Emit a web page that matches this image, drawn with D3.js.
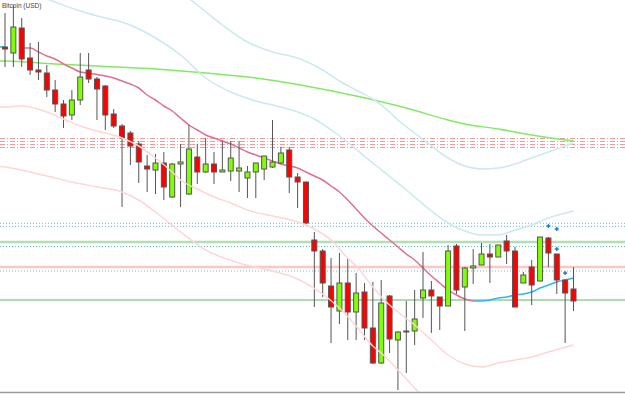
<!DOCTYPE html>
<html><head><meta charset="utf-8">
<script src="https://cdn.jsdelivr.net/npm/d3@7"></script>
<style>html,body{margin:0;padding:0;background:#fff;overflow:hidden}</style>
</head><body><div id="chart"></div>
<script>
const title = "Bitcoin (USD)";
// OHLC per bar (bar index 0..68)
const open  = [8530,8470,8720,8420,8300,8270,8100,7960,7850,8000, 8300,8210,8140,7860,7740,7670,7560,7340,7300,7370, 7030,7360,7060,7430,7280,7360,7280,7290,7290,7220, 7280,7310,7330,7370,7500,7230,7180,6600,6490,6140, 5890,6170,5880,6080,5720,5370,6040,5600,5690,5690, 6020,6100,6030,5940,6540,6130,6320,6350,6460,6430, 6590,6490,6170,6330,6190,6620,6460,6200,6110];
const high  = [8870,8950,8820,8570,8580,8350,8200,8000,8100,8470, 8470,8230,8150,7910,7760,7690,7590,7450,7460,7480, 7370,7560,7750,7560,7620,7480,7590,7590,7590,7340, 7370,7440,7800,7530,7530,7270,7180,6680,6510,6420, 6470,6410,6270,6170,6180,6200,6050,5690,5990,6100, 6480,6190,6030,6550,6560,6330,6510,6570,6560,6550, 6650,6530,6280,6400,6630,6630,6460,6200,6330];
const low   = [8330,8330,8330,8250,8200,8030,7880,7720,7800,7950, 8170,7800,7700,7720,6930,7350,7170,7080,7060,7000, 7020,6930,7050,7160,7270,7160,7280,7190,7080,7020, 7020,7200,7320,7360,7070,6920,6760,5930,6030,5570, 5760,5600,5600,5600,5360,5360,5470,5100,5270,5550, 5820,5670,5700,5940,6060,5690,6160,6350,6170,6430, 6360,5930,6170,5950,6190,6330,6060,5570,5890];
const close = [8510,8730,8410,8300,8280,8100,7960,7840,8000,8230, 8210,8110,7850,7740,7620,7540,7380,7310,7370,7130, 7360,7380,7510,7280,7360,7280,7300,7420,7320,7280, 7370,7440,7380,7470,7230,7180,6770,6490,6170,5930, 6170,5880,6070,5720,5370,5970,5610,5680,5680,5810, 6100,6040,5940,6490,6100,6320,6340,6460,6430,6550, 6490,5930,6250,6150,6630,6470,6200,6070,5990];

// moving average, bar index -1..68
const maStart = -1;
const ma = [8530,8530,8530,8520,8520,8480,8440,8410,8360,8320, 8280,8270,8255,8240,8220,8190,8160,8120,8050,8000, 7940,7890,7820,7750,7700,7650,7620,7590,7560,7520, 7480,7450,7420,7390,7360,7340,7320,7280,7240,7200, 7140,7080,7000,6910,6820,6740,6670,6600,6530,6460, 6400,6320,6240,6170,6100,6050,6010,5990,5990,6000, 6020,6030,6050,6060,6080,6120,6150,6180,6200,6220];
const maRisingRanges = [[-1,0],[56,68]];
const maFallingRange = [2,56];

// long moving average
const longMaIdx = [-1,0,6,12,18,24,30,36,42,48,53,55,59,63,68];
const longMaVal = [8390,8390,8360,8335,8310,8270,8220,8140,8040,7920,7800,7760,7710,7650,7590];

// bands
const upInnerIdx = [0,3,5,9,12,14,18,21,24,27,30,33,35,37,40,44,48,51,53,55,57,59,61,63,65,68];
const upInnerVal = [9150,9070,9010,8890,8820,8780,8620,8450,8220,8080,7990,7930,7880,7810,7640,7370,7100,6890,6770,6690,6650,6650,6700,6750,6820,6890];
const upOuterIdx = [18,21,23,26,29,32,35,38,40,42,44,46,47,49,51,53,55,57,59,61,63,65,67,68];
const upOuterVal = [9250,9080,8950,8750,8580,8480,8420,8300,8190,8100,8010,7880,7800,7670,7540,7420,7340,7310,7320,7360,7420,7480,7540,7570];
const loInnerIdx = [-1,0,2,5,7,9,11,14,16,18,20,21,23,25,27,29,32,35,37,39,41,42,44,45,47,49,51,53,55,57,59,61,63,65,68];
const loInnerVal = [7930,7930,7940,7880,7810,7740,7690,7620,7540,7420,7280,7200,7110,7030,6970,6900,6840,6780,6710,6600,6420,6340,6130,6030,5880,5750,5600,5450,5360,5330,5370,5400,5430,5480,5550];
const loOuterIdx = [-1,0,5,8,11,14,16,18,21,24,28,32,35,38,40,42,44,45,47,49,51];
const loOuterVal = [7340,7330,7240,7180,7130,7080,7000,6880,6680,6500,6370,6290,6210,6060,5920,5740,5540,5470,5300,5120,4940];

// horizontal levels
const dashDotLevels = [7615,7585,7555,7525];
const dottedLevels = [6767,6737,6535,6290];
const thickGreenLevel = 6580;
const thickPinkLevel = 6330;
const thinGreenLevel = 6000;

// fractal markers
const markerIdx = [65,66,66,67];
const markerVal = [6740,6710,6510,6270];

const W = 625, H = 394;
const svg = d3.select("#chart").append("svg").attr("width", W).attr("height", H)
  .style("display","block").style("background","#fff");
svg.append("defs").append("clipPath").attr("id","clip")
  .append("rect").attr("x",0).attr("y",0).attr("width",W).attr("height",392);

const x = d3.scaleLinear().domain([0, 68]).range([5, 573.5]);
const y = d3.scaleLinear().domain([5060, 9000]).range([394, 0]);

const g = svg.append("g").attr("clip-path","url(#clip)");

// horizontal levels (behind)
dashDotLevels.forEach(v => g.append("line").attr("x1",0).attr("x2",W)
  .attr("y1",y(v)).attr("y2",y(v)).attr("stroke","#f29a9a").attr("stroke-width",1)
  .attr("stroke-dasharray","5,2,1,2"));
g.append("line").attr("x1",0).attr("x2",W).attr("y1",y(thickGreenLevel)).attr("y2",y(thickGreenLevel))
  .attr("stroke","#b4dfb4").attr("stroke-width",2.5);
g.append("line").attr("x1",0).attr("x2",W).attr("y1",y(thickPinkLevel)).attr("y2",y(thickPinkLevel))
  .attr("stroke","#ffc6c6").attr("stroke-width",2.5);
dottedLevels.forEach(v => g.append("line").attr("x1",0).attr("x2",W)
  .attr("y1",y(v)).attr("y2",y(v)).attr("stroke","#5ec4c8").attr("stroke-width",1)
  .attr("stroke-dasharray","1,2"));
g.append("line").attr("x1",0).attr("x2",W).attr("y1",y(thinGreenLevel)).attr("y2",y(thinGreenLevel))
  .attr("stroke","#5cb85c").attr("stroke-width",1);

const lineGen = d3.line().x(d => x(d[0])).y(d => y(d[1])).curve(d3.curveMonotoneX);
const zip = (a,b) => a.map((v,k)=>[v,b[k]]);

// long MA
g.append("path").attr("d", lineGen(zip(longMaIdx,longMaVal)))
  .attr("fill","none").attr("stroke","#82ea62").attr("stroke-width",1.5);

// MA
const maPts = ma.map((v,k)=>[k+maStart, v]);
g.append("path").attr("d", lineGen(maPts.filter(p=>p[0]>=maFallingRange[0] && p[0]<=maFallingRange[1])))
  .attr("fill","none").attr("stroke","#e0708e").attr("stroke-width",1.5);
maRisingRanges.forEach(r => g.append("path")
  .attr("d", lineGen(maPts.filter(p=>p[0]>=r[0] && p[0]<=r[1])))
  .attr("fill","none").attr("stroke","#2cb8ee").attr("stroke-width",1.5));

// candles
const idx = d3.range(open.length);
g.selectAll(".wick").data(idx).join("line").attr("class","wick")
  .attr("x1", i => x(i)).attr("x2", i => x(i))
  .attr("y1", i => y(high[i])).attr("y2", i => y(low[i]))
  .attr("stroke","#555").attr("stroke-width",1);
g.selectAll(".body").data(idx).join("rect").attr("class","body")
  .attr("x", i => x(i) - 2.5).attr("width", 5)
  .attr("y", i => y(Math.max(open[i], close[i])))
  .attr("height", i => Math.max(1, Math.abs(y(open[i]) - y(close[i]))))
  .attr("fill", i => close[i] >= open[i] ? "#7fff00" : "#ff0000")
  .attr("stroke","#555").attr("stroke-width",1);

// bands (on top)
[[upInnerIdx,upInnerVal,"#cde8ee"],[upOuterIdx,upOuterVal,"#cde8ee"],
 [loInnerIdx,loInnerVal,"#ffd6d6"],[loOuterIdx,loOuterVal,"#ffd6d6"]].forEach(([a,b,c]) =>
  g.append("path").attr("d", lineGen(zip(a,b))).attr("fill","none")
   .attr("stroke",c).attr("stroke-width",1.5));

// markers
g.selectAll(".mk").data(markerIdx).join("path").attr("class","mk")
  .attr("transform",(d,k)=>`translate(${x(d)},${y(markerVal[k])})`)
  .attr("d", d3.symbol().type(d3.symbolCross).size(9)())
  .attr("fill","#2277cc");

// bottom frame line
svg.append("line").attr("x1",0).attr("x2",W).attr("y1",392.5).attr("y2",392.5)
  .attr("stroke","#9a9a9a").attr("stroke-width",1.5);

svg.append("text").attr("x",2).attr("y",8).text(title)
  .attr("font-family","Liberation Sans, Arial, sans-serif").attr("font-size",6.5).attr("fill","#444");
</script></body></html>
